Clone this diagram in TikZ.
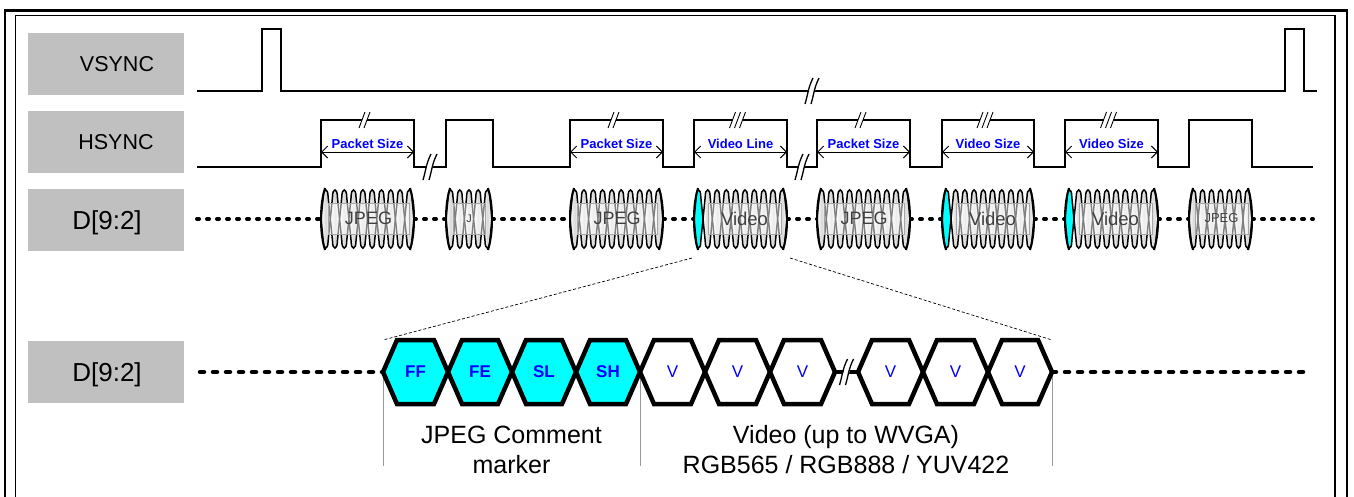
\documentclass[tikz,border=0pt]{standalone}
\usepackage{fontspec}
\setmainfont{Liberation Sans}
\usetikzlibrary{arrows.meta}

\definecolor{boxgray}{RGB}{192,192,192}
\definecolor{lblblue}{RGB}{0,0,255}
\definecolor{markcyan}{RGB}{0,255,255}

\newcommand\fsz[1]{\fontsize{#1}{#1}\selectfont}

% one narrow bus cell: left x, right x, style
\newcommand\buscell[3]{%
  \draw[cellline,#3] (#1,219) -- ({#1+2.2},197) .. controls ({#1+2.2},187.5) and ({#2-2.2},187.5) .. ({#2-2.2},197)
    -- (#2,219) -- ({#2-2.2},241) .. controls ({#2-2.2},250.5) and ({#1+2.2},250.5) .. ({#1+2.2},241) -- cycle;}

% break symbol on a line: x, y
\newcommand\brkmark[2]{%
  \fill[white] ({#1-7},{#2+13}) -- ({#1+1},{#2-13}) -- ({#1+7},{#2-13}) -- ({#1-1},{#2+13}) -- cycle;
  \foreach \dx in {-3,3}
    \draw[brkline] ({#1+\dx-4},{#2+13}) .. controls ({#1+\dx-1},{#2+3}) and ({#1+\dx-1},{#2-3}) .. ({#1+\dx+4},{#2-13});}

% small slashes on a high level: x, y, count
\newcommand\tickmark[3]{%
  \fill[white] ({#1-2.5*(#3-1)},{#2-1.8}) rectangle ({#1+2.5*(#3-1)},{#2+1.8});
  \foreach \k in {1,...,#3}
    \draw[line width=0.9pt] ({#1+(\k-(#3+1)/2)*5-3},{#2+8}) -- ({#1+(\k-(#3+1)/2)*5+3},{#2-8});}

\begin{document}
\begin{tikzpicture}[x=1pt,y=-1pt,
  sigbox/.style={fill=boxgray,minimum width=156pt,minimum height=62pt,inner sep=0pt},
  signame/.style={anchor=base,inner sep=0pt,font=\fsz{21.5}},
  busname/.style={anchor=base,inner sep=0pt,font=\fsz{26}},
  wave/.style={line width=2.5pt},
  busdots/.style={line width=4pt,dash pattern=on 2pt off 8pt,line cap=round},
  hexdots/.style={line width=4.5pt,dash pattern=on 4pt off 9pt,line cap=round},
  cellline/.style={line width=1.5pt},
  cellshade/.style={left color=white,right color=white,middle color=gray!30},
  bracket/.style={line width=2pt},
  brkline/.style={line width=1.3pt},
  sizearrow/.style={line width=1pt,{Straight Barb[length=6pt,width=12pt]}-{Straight Barb[length=6pt,width=12pt]}},
  sizelabel/.style={anchor=base,inner sep=0pt,text=lblblue,font=\fsz{13}\bfseries},
  lblbox/.style={draw=gray!70,line width=1pt,fill=white,fill opacity=0.5,text opacity=1,text=black!75,minimum height=31pt,inner sep=0pt},
  hexcell/.style={line width=4.5pt},
  hexlabel/.style={inner sep=0pt,text=lblblue},
  zoomline/.style={line width=0.7pt,dash pattern=on 3pt off 2pt},
  guide/.style={line width=1pt,gray!80},
  note/.style={anchor=base,inner sep=0pt,font=\fsz{25}}
]
\useasboundingbox (0,0) rectangle (1354,496);

% frame
\draw[line width=2.6pt] (5,500) -- (5,10.5) -- (1347,10.5) -- (1347,500);
\draw[line width=1.1pt] (15.5,500) -- (15.5,15.5) -- (1335,15.5) -- (1335,500);

% signal names
\node[sigbox] (vsbox) at (106,64) {};
\node[signame] (vsname) at (117,71) {VSYNC};
\node[sigbox] (hsbox) at (106,142) {};
\node[signame] (hsname) at (116,149) {HSYNC};
\node[sigbox] (dbox) at (106,220) {};
\node[busname] (dname) at (107,229) {D[9:2]};
\node[sigbox] (zbox) at (106,372) {};
\node[busname] (zname) at (107,381) {D[9:2]};

% VSYNC and HSYNC
\draw[wave] (197,91) -- (262,91) -- (262,29) -- (281,29) -- (281,91) -- (1285,91) -- (1285,29) -- (1304,29) -- (1304,91) -- (1317,91);
\draw[wave] (197,167) -- (321,167) -- (321,120) -- (414,120) -- (414,167) -- (446,167) -- (446,120) -- (493,120) -- (493,167)
  -- (570,167) -- (570,120) -- (663,120) -- (663,167) -- (694,167) -- (694,120) -- (787,120) -- (787,167)
  -- (817,167) -- (817,120) -- (910,120) -- (910,167) -- (942,167) -- (942,120) -- (1034,120) -- (1034,167)
  -- (1065,167) -- (1065,120) -- (1158,120) -- (1158,167) -- (1189,167) -- (1189,120) -- (1252,120) -- (1252,167) -- (1313,167);
\brkmark{812}{91}
\brkmark{430}{167}
\brkmark{802}{167}

\foreach \xa/\xb/\txt/\n [count=\i] in {321/414/Packet Size/2, 570/663/Packet Size/2, 694/787/Video Line/3,
    817/910/Packet Size/2, 942/1034/Video Size/3, 1065/1158/Video Size/3} {
  \coordinate (sa\i) at (\xa,152);
  \coordinate (sb\i) at (\xb,152);
  \draw[sizearrow] (sa\i) -- (sb\i);
  \node[sizelabel] (sl\i) at ({(\xa+\xb)/2},148) {\txt};
  \tickmark{(\xa+\xb)/2-3}{120}{\n}
}

% data bus
\foreach \xa/\xb in {197/321,414/446,492/570,663/694,787/817,910/942,1034/1065,1158/1189,1252/1313}
  \draw[busdots] (\xa,219) -- (\xb,219);

\foreach \xs/\xe/\n/\cy/\bl/\br/\txt/\fs [count=\i] in {321/414/10/0/328/409/JPEG/18, 446/492/5/0/453/485/J/11,
    570/663/10/0/577/657/JPEG/18, 694/787/9/1/708/781/Video/18.5, 817/910/10/0/824/904/JPEG/18,
    942/1034/9/1/956/1029/Video/18.5, 1065/1158/9/1/1079/1152/Video/18.5, 1189/1252/7/0/1195/1248/JPEG/13} {
  \ifnum\cy=1
    \buscell{\xs}{\xs+9}{fill=markcyan}
    \pgfmathsetmacro\xc{\xs+9}
  \else
    \pgfmathsetmacro\xc{\xs}
  \fi
  \pgfmathsetmacro\cw{(\xe-\xc)/\n}
  \foreach \k in {1,...,\n} {
    \pgfmathsetmacro\ca{\xc+(\k-1)*\cw}
    \pgfmathsetmacro\cb{\ca+\cw}
    \buscell{\ca}{\cb}{cellshade}
  }
  \draw[bracket] ({\xs+4},188) .. controls ({\xs+0.5},200) and (\xs,210) .. (\xs,219) .. controls (\xs,228) and ({\xs+0.5},238) .. ({\xs+4},250);
  \draw[bracket] ({\xe-4},188) .. controls ({\xe-0.5},200) and (\xe,210) .. (\xe,219) .. controls (\xe,228) and ({\xe-0.5},238) .. ({\xe-4},250);
  \node[lblbox,minimum width={(\br-\bl)*1pt},font=\fsz{\fs}] (blk\i) at ({(\bl+\br)/2},218.5) {\txt};
}

% zoomed line
\coordinate (zl) at (692,258);
\coordinate (zr) at (790,258);
\coordinate (hexL) at (383,340);
\coordinate (hexR) at (1052,340);
\draw[zoomline] (zl) -- (hexL);
\draw[zoomline] (zr) -- (hexR);

\draw[hexdots] (200,372) -- (383,372);
\draw[hexdots] (1052,372) -- (1305,372);
\draw[guide] (383,372) -- (383,466);
\draw[guide] (640,372) -- (640,466);
\draw[guide] (1052,372) -- (1052,466);

\foreach \xl/\xr/\txt/\col/\wt [count=\i] in {383/448/FF/markcyan/\bfseries, 448/512/FE/markcyan/\bfseries,
    512/576/SL/markcyan/\bfseries, 576/640/SH/markcyan/\bfseries, 640/705/V/white/\mdseries, 705/770/V/white/\mdseries,
    770/835/V/white/\mdseries, 858/923/V/white/\mdseries, 923/988/V/white/\mdseries, 988/1052/V/white/\mdseries} {
  \draw[hexcell,fill=\col] (\xl,372) -- ({\xl+14},340) -- ({\xr-14},340) -- (\xr,372) -- ({\xr-14},404) -- ({\xl+14},404) -- cycle;
  \node[hexlabel,font=\fsz{17}\wt] (hx\i) at ({(\xl+\xr)/2},372) {\txt};
}
\draw[hexcell] (835,372) -- (858,372);
\brkmark{846.5}{372}

\node[note] (jc1) at (511.5,443) {JPEG Comment};
\node[note] (jc2) at (511.5,473) {marker};
\node[note] (vd1) at (846,443) {Video (up to WVGA)};
\node[note] (vd2) at (846,473) {RGB565 / RGB888 / YUV422};
\end{tikzpicture}
\end{document}
